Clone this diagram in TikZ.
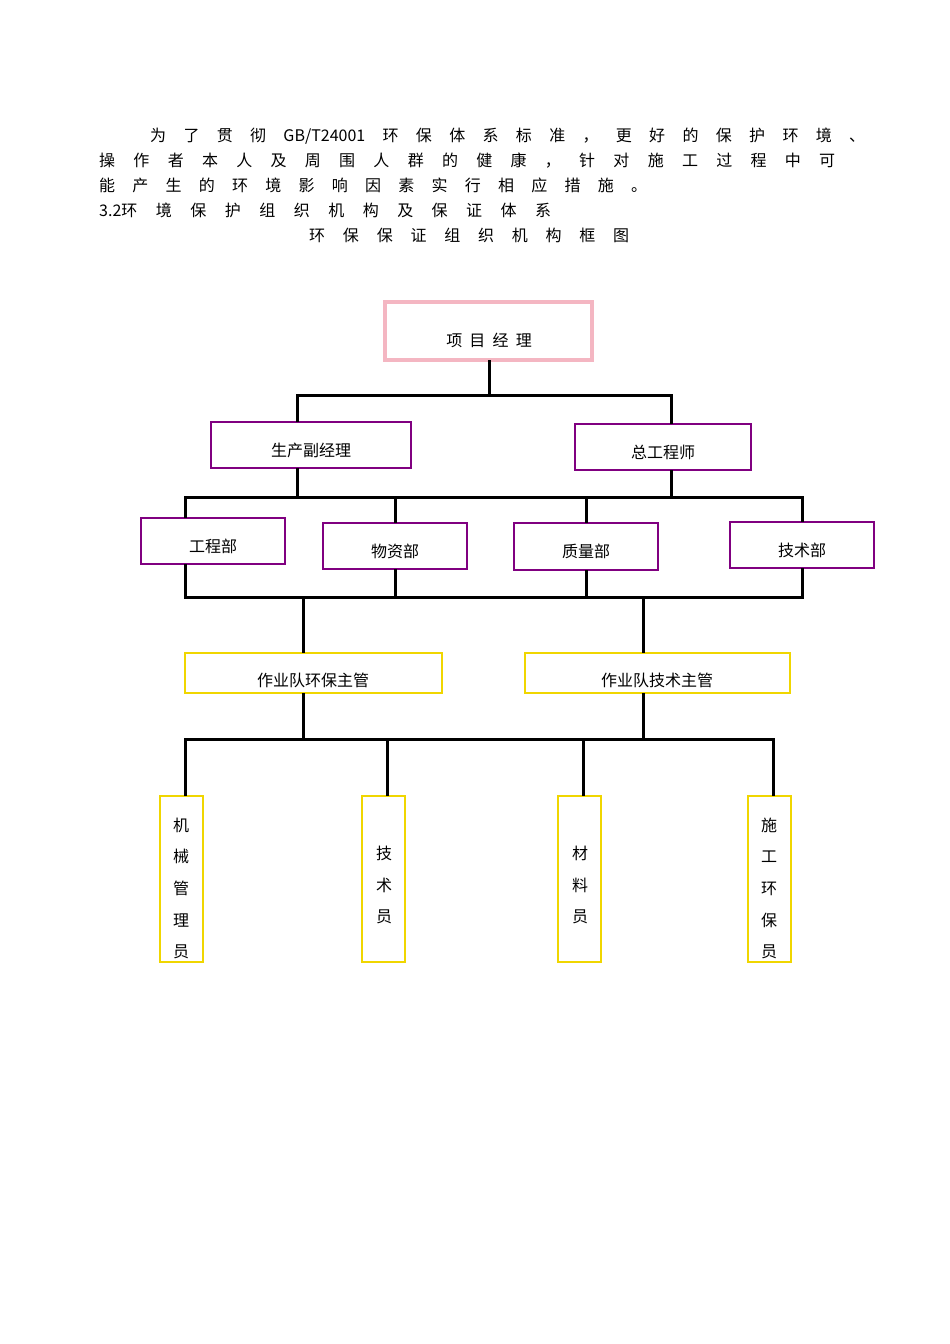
\documentclass[tikz,border=0pt]{standalone}
\usepackage{fontspec}
\newfontfamily\cjk{Noto Sans CJK SC}
\begin{document}
\begin{tikzpicture}[x=1pt,y=-1pt,font=\cjk\fontsize{16}{18}\selectfont,
 ln/.style={line width=3pt,black},
 pk/.style={draw={rgb,255:red,244;green,182;blue,194},line width=4pt},
 pu/.style={draw={rgb,255:red,128;green,0;blue,128},line width=2pt},
 ye/.style={draw={rgb,255:red,240;green,214;blue,0},line width=1.2pt},
 hl/.style={anchor=base west,inner sep=0pt}]
\useasboundingbox (0,0) rectangle (950,1344);
\fill[white] (0,0) rectangle (950,1344);
\node[hl] (l1) at (150,141) {\makebox[715pt][s]{为 了 贯 彻 GB/T24001 环 保 体 系 标 准 ， 更 好 的 保 护 环 境 、}};
\node[hl] (l2) at (99,166) {\makebox[736pt][s]{操 作 者 本 人 及 周 围 人 群 的 健 康 ， 针 对 施 工 过 程 中 可}};
\node[hl] (l3) at (99,191) {\makebox[548pt][s]{能 产 生 的 环 境 影 响 因 素 实 行 相 应 措 施 。}};
\node[hl] (l4) at (99,216) {\makebox[452pt][s]{3.2环 境 保 护 组 织 机 构 及 保 证 体 系}};
\node[hl] (l5) at (309,241) {\makebox[320pt][s]{环 保 保 证 组 织 机 构 框 图}};
% boxes
\draw[pk] (385,302) rectangle (592,360);
\node (pm) at (489,340) {项\ \ 目\ \ 经\ \ 理};
\draw[pu] (211,422) rectangle (411,468); \node (a) at (311,450) {生产副经理};
\draw[pu] (575,424) rectangle (751,470); \node (b) at (663,452) {总工程师};
\draw[pu] (141,518) rectangle (285,564); \node (d1) at (213,546) {工程部};
\draw[pu] (323,523) rectangle (467,569); \node (d2) at (395,551) {物资部};
\draw[pu] (514,523) rectangle (658,570); \node (d3) at (586,551) {质量部};
\draw[pu] (730,522) rectangle (874,568); \node (d4) at (802,550) {技术部};
\draw[ye] (185,653) rectangle (442,693); \node (t1) at (313,680) {作业队环保主管};
\draw[ye] (525,653) rectangle (790,693); \node (t2) at (657,680) {作业队技术主管};
\foreach \x/\n in {160/s1,362/s2,558/s3,748/s4}{\draw[ye] (\x,796) rectangle (\x+43,962);}
\foreach \c [count=\i] in {机,械,管,理,员}{\node at (181,825+31.7*\i-31.7) {\c};}
\foreach \c [count=\i] in {技,术,员}{\node at (384,853+32*\i-32) {\c};}
\foreach \c [count=\i] in {材,料,员}{\node at (580,853+32*\i-32) {\c};}
\foreach \c [count=\i] in {施,工,环,保,员}{\node at (769,825+31.7*\i-31.7) {\c};}
% lines
\draw[ln] (489,360) -- (489,395);
\draw[ln] (297,422) -- (297,395) -- (671,395) -- (671,424);
\draw[ln] (297,468) -- (297,497); \draw[ln] (671,470) -- (671,497);
\draw[ln] (185,518) -- (185,497) -- (802,497) -- (802,522);
\draw[ln] (395,497) -- (395,523); \draw[ln] (586,497) -- (586,523);
\draw[ln] (185,564) -- (185,597) -- (802,597) -- (802,568);
\draw[ln] (395,569) -- (395,597); \draw[ln] (586,570) -- (586,597);
\draw[ln] (303,597) -- (303,653); \draw[ln] (643,597) -- (643,653);
\draw[ln] (303,693) -- (303,739); \draw[ln] (643,693) -- (643,739);
\draw[ln] (185,796) -- (185,739) -- (773,739) -- (773,796);
\draw[ln] (387,739) -- (387,796); \draw[ln] (583,739) -- (583,796);
\end{tikzpicture}
\end{document}
